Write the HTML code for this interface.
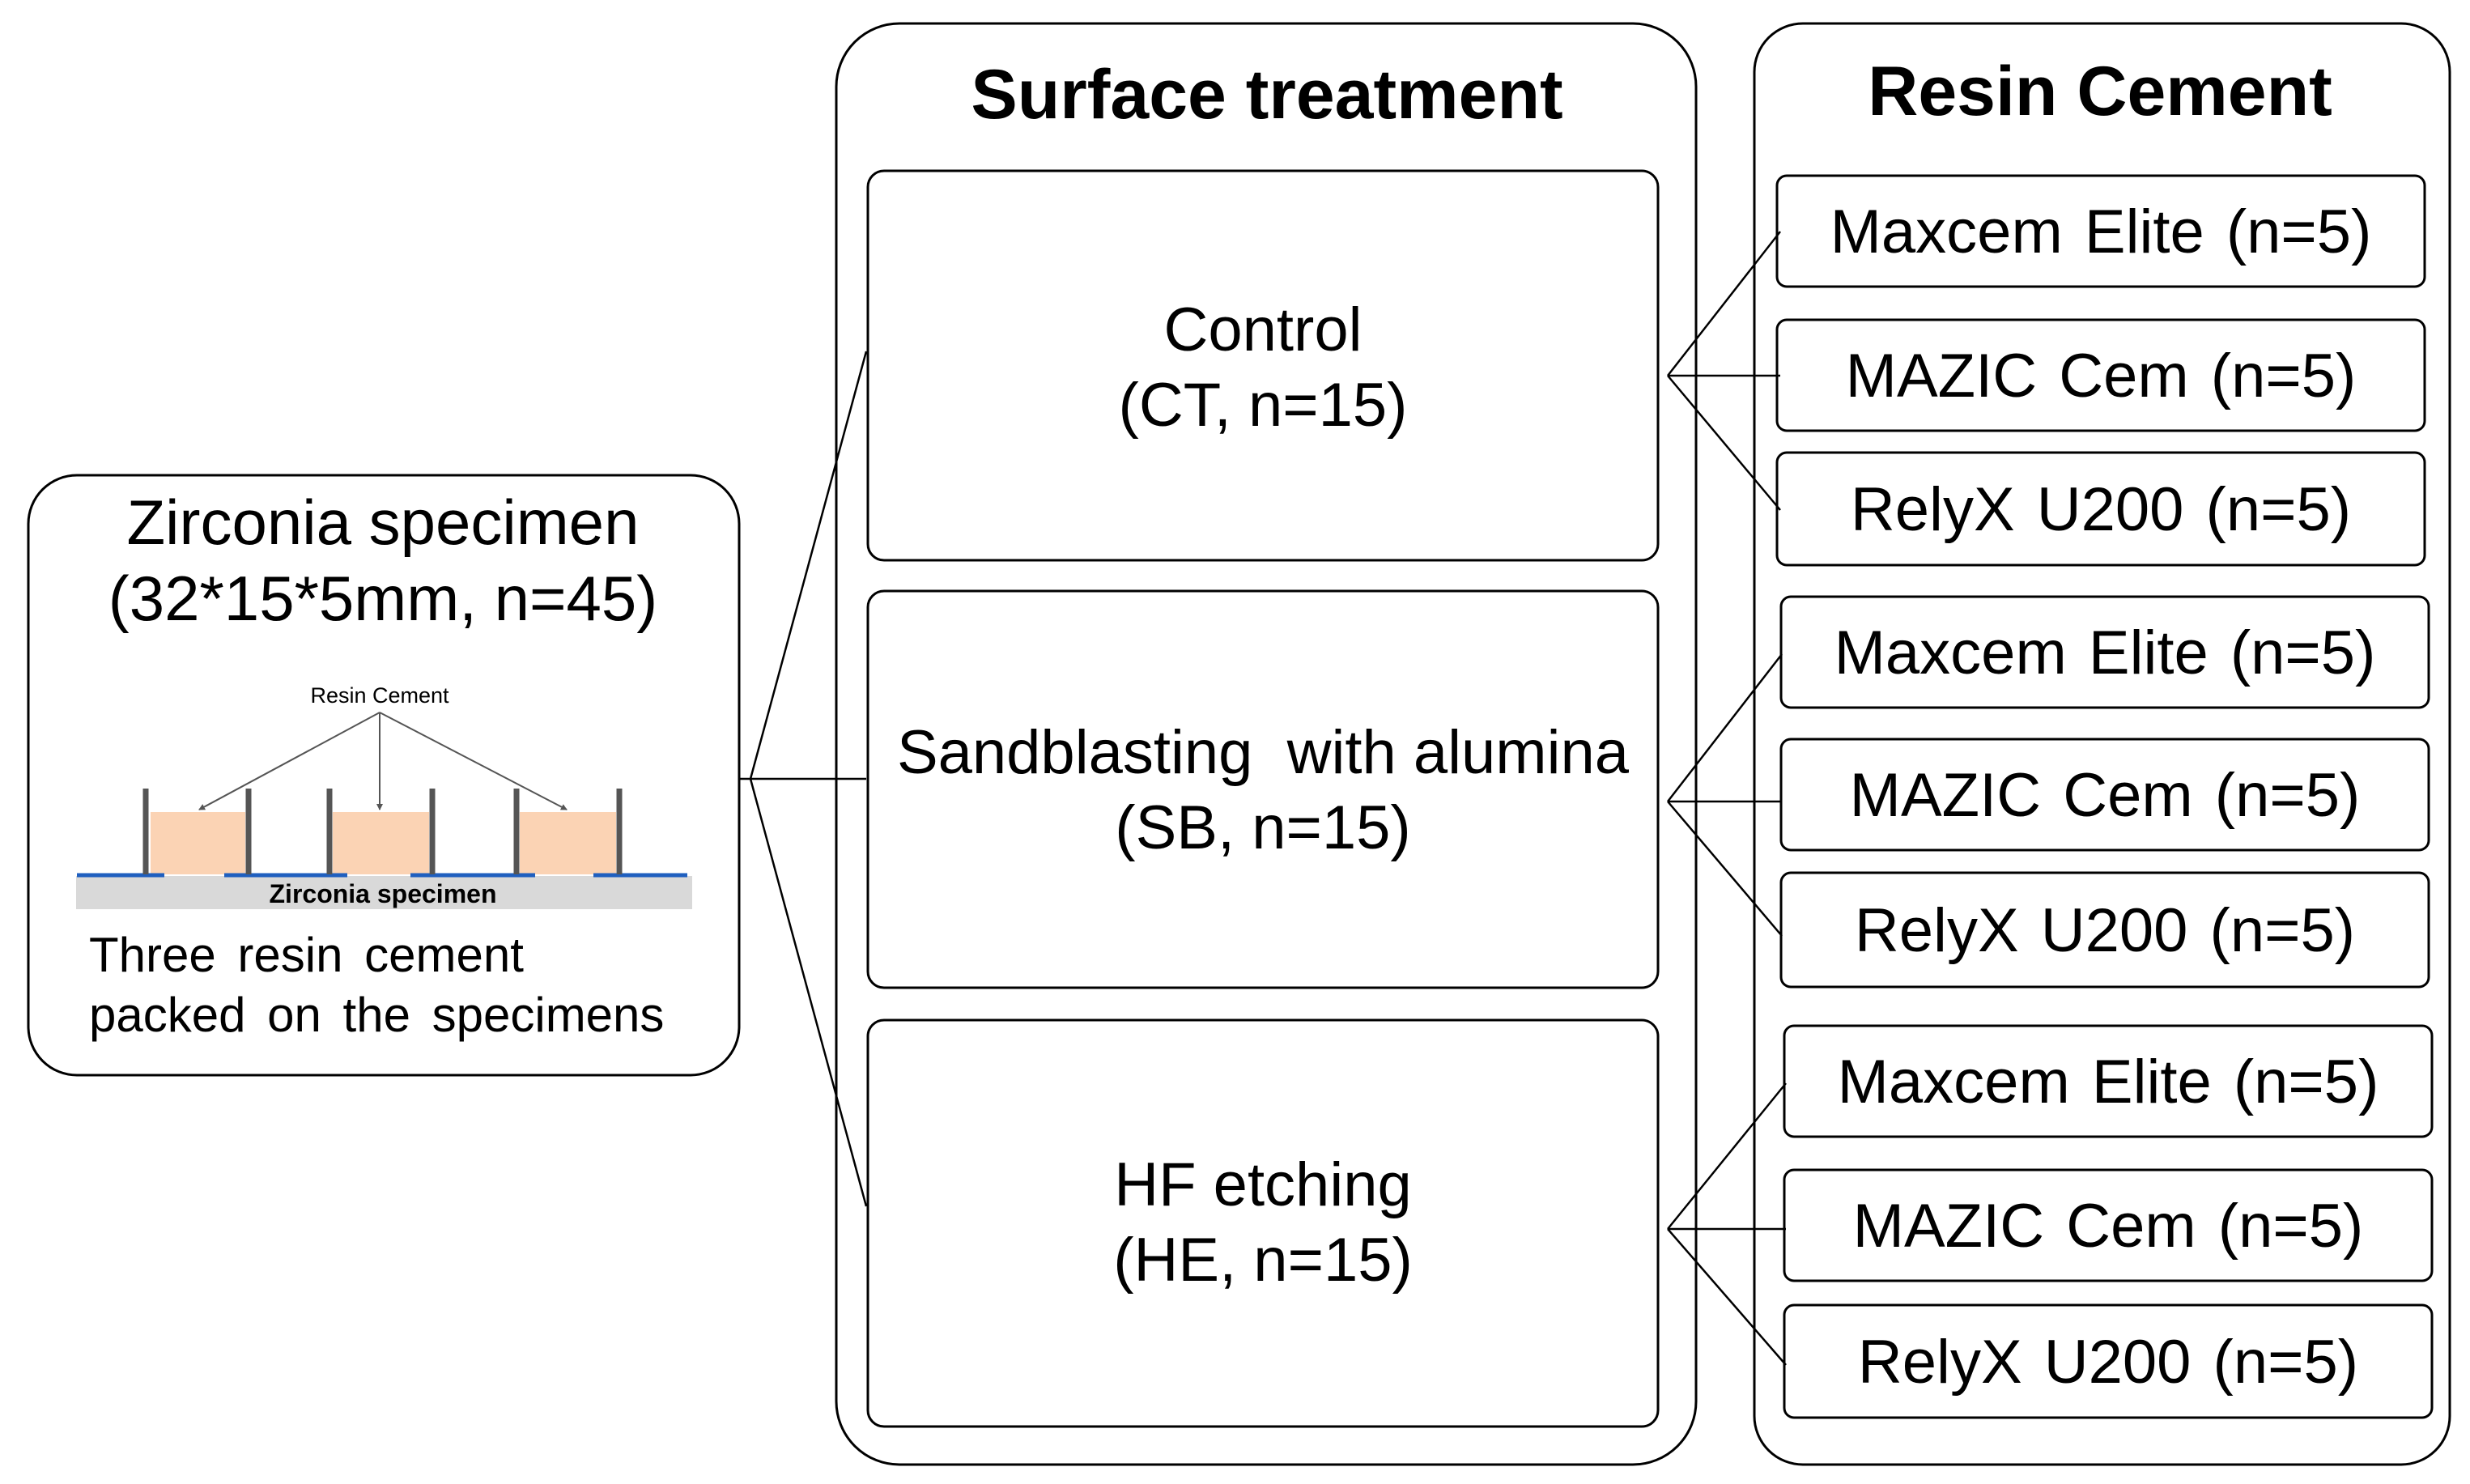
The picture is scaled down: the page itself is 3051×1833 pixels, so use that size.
<!DOCTYPE html>
<html><head><meta charset="utf-8"><style>
html,body{margin:0;padding:0;background:#fff}
svg{display:block}
text{font-family:"Liberation Sans",sans-serif;fill:#000}
</style></head><body>
<svg width="3051" height="1833" viewBox="0 0 3051 1833" xmlns="http://www.w3.org/2000/svg">
<defs><marker id="a" markerWidth="8" markerHeight="8" refX="7" refY="4" orient="auto" markerUnits="userSpaceOnUse"><path d="M0 0 L8 4 L0 8 z" fill="#555"/></marker></defs>
<rect width="3051" height="1833" fill="#fff"/>
<g fill="none" stroke="#000" stroke-width="3">
<rect x="35" y="587" width="878" height="741" rx="60"/>
<rect x="1033" y="29" width="1062" height="1780" rx="78"/>
<rect x="2167" y="29" width="859" height="1780" rx="60"/>
<rect x="1072" y="211" width="976" height="481" rx="20"/>
<rect x="1072" y="730" width="976" height="490" rx="20"/>
<rect x="1072" y="1260" width="976" height="502" rx="20"/>
<rect x="2195" y="217" width="800" height="137" rx="12"/>
<rect x="2195" y="395" width="800" height="137" rx="12"/>
<rect x="2195" y="559" width="800" height="139" rx="12"/>
<rect x="2200" y="737" width="800" height="137" rx="12"/>
<rect x="2200" y="913" width="800" height="137" rx="12"/>
<rect x="2200" y="1078" width="800" height="141" rx="12"/>
<rect x="2204" y="1267" width="800" height="137" rx="12"/>
<rect x="2204" y="1445" width="800" height="137" rx="12"/>
<rect x="2204" y="1612" width="800" height="139" rx="12"/>
</g>
<g fill="none" stroke="#000" stroke-width="2.5">
<path d="M913 962 H927 M927 962 L1070 434 M927 962 H1070 M927 962 L1070 1490"/>
<path d="M2060 464 L2199 286 M2060 464 H2199 M2060 464 L2199 630"/>
<path d="M2060 990 L2201 808 M2060 990 H2201 M2060 990 L2201 1156"/>
<path d="M2060 1518 L2206 1338 M2060 1518 H2206 M2060 1518 L2206 1686"/>
</g>
<rect x="94" y="1082" width="761" height="41" fill="#d9d9d9"/>
<g fill="#fbd3b4">
<rect x="186" y="1003" width="117" height="77"/>
<rect x="411" y="1003" width="119" height="77"/>
<rect x="642" y="1003" width="119" height="77"/>
</g>
<g stroke="#1f5fbf" stroke-width="5">
<path d="M95 1081 H203 M277 1081 H429 M507 1081 H661 M733 1081 H849"/>
</g>
<g stroke="#555" stroke-width="7">
<path d="M180 974 V1080 M307 974 V1080 M407 974 V1080 M534 974 V1080 M638 974 V1080 M765 974 V1080"/>
</g>
<g stroke="#555" stroke-width="2" fill="none" marker-end="url(#a)">
<path d="M469 880 L246 1000"/><path d="M469 880 V1000"/><path d="M469 880 L700 1000"/>
</g>
<text x="469" y="868" font-size="27" text-anchor="middle">Resin Cement</text>
<text x="473" y="1115" font-size="32" font-weight="bold" text-anchor="middle">Zirconia specimen</text>
<g font-size="78" text-anchor="middle">
<text x="473" y="672">Zirconia specimen</text>
<text x="473" y="766">(32*15*5mm, n=45)</text>
</g>
<g font-size="76" text-anchor="middle">
<text x="1560" y="433">Control</text>
<text x="1560" y="526">(CT, n=15)</text>
<text x="1560" y="955" xml:space="preserve">Sandblasting  with alumina</text>
<text x="1560" y="1048">(SB, n=15)</text>
<text x="1560" y="1489">HF etching</text>
<text x="1560" y="1582">(HE, n=15)</text>
</g>
<g font-size="76" text-anchor="middle" word-spacing="6">
<text x="2595" y="312">Maxcem Elite (n=5)</text>
<text x="2595" y="490">MAZIC Cem (n=5)</text>
<text x="2595" y="655">RelyX U200 (n=5)</text>
<text x="2600" y="832">Maxcem Elite (n=5)</text>
<text x="2600" y="1008">MAZIC Cem (n=5)</text>
<text x="2600" y="1175">RelyX U200 (n=5)</text>
<text x="2604" y="1362">Maxcem Elite (n=5)</text>
<text x="2604" y="1540">MAZIC Cem (n=5)</text>
<text x="2604" y="1708">RelyX U200 (n=5)</text>
</g>
<g font-size="60" word-spacing="10">
<text x="110" y="1200">Three resin cement</text>
<text x="110" y="1274">packed on the specimens</text>
</g>
<g font-size="86" font-weight="bold" text-anchor="middle">
<text x="1565" y="146">Surface treatment</text>
<text x="2594" y="142">Resin Cement</text>
</g>
</svg>
</body></html>
